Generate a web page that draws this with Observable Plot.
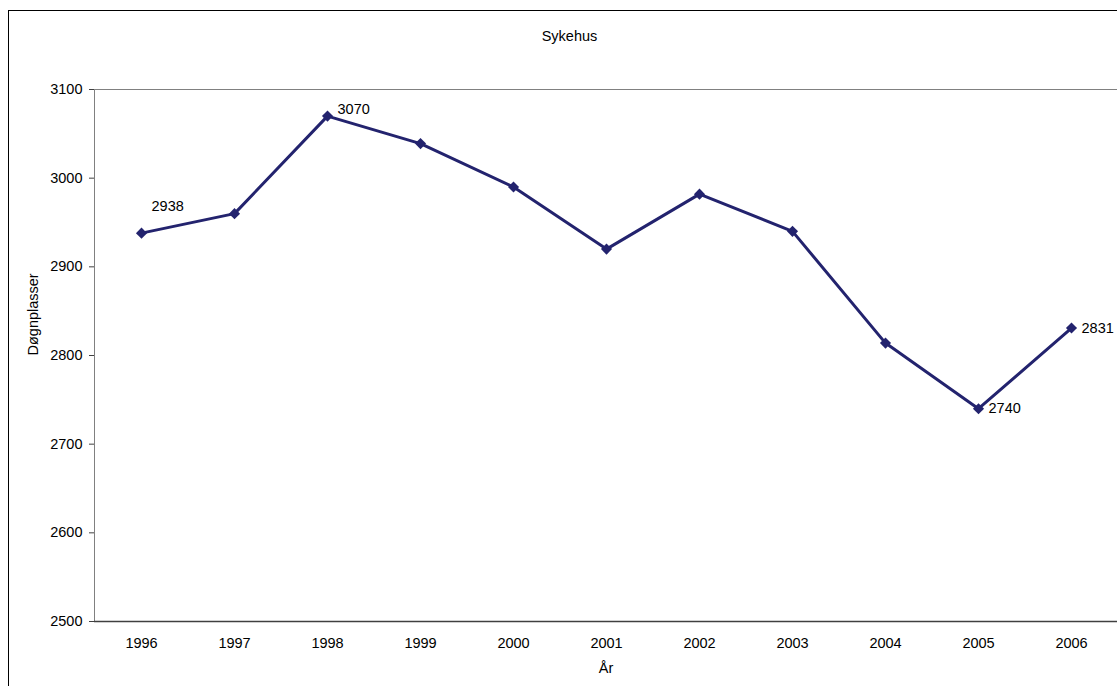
<!DOCTYPE html>
<html>
<head>
<meta charset="utf-8">
<script src="https://cdn.jsdelivr.net/npm/d3@7"></script>
<script src="https://cdn.jsdelivr.net/npm/@observablehq/plot@0.6"></script>
<style>
  html, body { margin: 0; padding: 0; background: #fff; overflow: hidden; }
  #wrap { position: relative; width: 1117px; height: 686px; font-family: "Liberation Sans", Arial, sans-serif; }
  #border { position: absolute; left: 8px; top: 10px; width: 1200px; height: 800px; border: 1px solid #000; box-sizing: border-box; }
  #title { position: relative; height: 22px; padding-top: 28px; line-height: 17px; text-align: center; font-size: 14.5px; color: #000; padding-left: 22px; }
  #chart { position: relative; }
</style>
</head>
<body>
<div id="wrap">
  <div id="border"></div>
  <div id="title">Sykehus</div>
  <div id="chart"></div>
</div>
<script>
const years = ["1996","1997","1998","1999","2000","2001","2002","2003","2004","2005","2006"];
const values = [2938, 2960, 3070, 3039, 2990, 2920, 2982, 2940, 2814, 2740, 2831];
const yTicks = [2500, 2600, 2700, 2800, 2900, 3000, 3100];
const labeledYears = ["1996", "1998", "2005", "2006"];
const titleText = "Sykehus";
const yLabel = "Døgnplasser";
const xLabel = "År";

const data = years.map((y, i) => ({year: y, value: values[i]}));
const lineColor = "#23236e";
const font = "Liberation Sans, Arial, sans-serif";

const labelOffsets = {"1996": -27, "1998": -7, "2005": 0, "2006": 0};

const chart = Plot.plot({
  width: 1117,
  height: 636,
  marginTop: 39,
  marginLeft: 94,
  marginRight: 0,
  marginBottom: 65,
  style: {fontFamily: font, fontSize: "14.5px", color: "#000", background: "transparent"},
  x: {type: "point", domain: years, padding: 0.5, label: null},
  y: {domain: [2500, 3100], label: null},
  marks: [
    Plot.frame({stroke: "#808080", strokeWidth: 1}),
    Plot.axisY({ticks: yTicks, tickSize: 5, tickPadding: 7, stroke: "#404040", fill: "#000", label: null, tickFormat: d => String(d)}),
    Plot.axisX({tickSize: 0, tickPadding: 16, fill: "#000", label: null}),
    Plot.ruleX([0], {x: () => null, frameAnchor: "left", stroke: "#404040", strokeWidth: 1.6}),
    Plot.ruleY([2500], {stroke: "#404040", strokeWidth: 1.6}),
    Plot.line(data, {x: "year", y: "value", stroke: lineColor, strokeWidth: 3}),
    Plot.dot(data, {x: "year", y: "value", symbol: "diamond2", r: 5, fill: lineColor, stroke: null}),
    ...labeledYears.map(yr => Plot.text(data.filter(d => d.year === yr), {
      x: "year", y: "value", text: d => String(d.value), textAnchor: "start", dx: 10, dy: labelOffsets[yr], fill: "#000"
    })),
    Plot.text([yLabel], {frameAnchor: "left", rotate: -90, dx: -61, fill: "#000"}),
    Plot.text([xLabel], {frameAnchor: "bottom", dy: 47, lineAnchor: "middle", fill: "#000"})
  ]
});
document.getElementById("chart").appendChild(chart);
</script>
</body>
</html>
